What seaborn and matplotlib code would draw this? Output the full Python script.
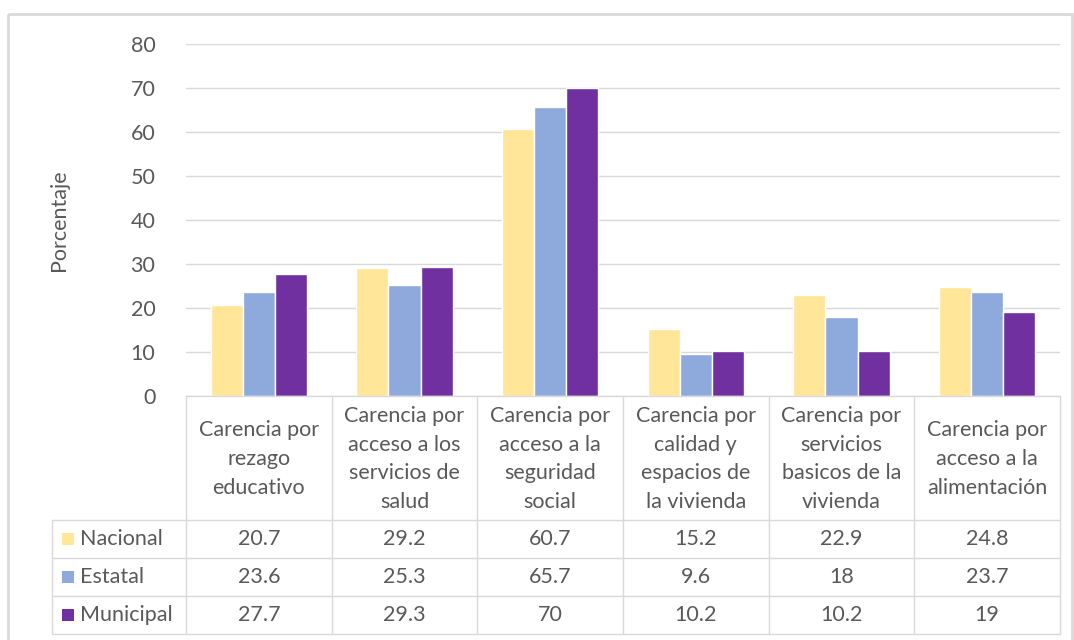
import pandas as pd
import matplotlib.pyplot as plt
import matplotlib.transforms as mtransforms
from matplotlib.patches import Rectangle
import seaborn as sns

# Chart data
categorias = [
    "Carencia por\nrezago\neducativo",
    "Carencia por\nacceso a los\nservicios de\nsalud",
    "Carencia por\nacceso a la\nseguridad\nsocial",
    "Carencia por\ncalidad y\nespacios de\nla vivienda",
    "Carencia por\nservicios\nbasicos de la\nvivienda",
    "Carencia por\nacceso a la\nalimentación",
]
series = ["Nacional", "Estatal", "Municipal"]
nacional = [20.7, 29.2, 60.7, 15.2, 22.9, 24.8]
estatal = [23.6, 25.3, 65.7, 9.6, 18, 23.7]
municipal = [27.7, 29.3, 70, 10.2, 10.2, 19]
etiquetas_tabla = [
    ["20.7", "29.2", "60.7", "15.2", "22.9", "24.8"],
    ["23.6", "25.3", "65.7", "9.6", "18", "23.7"],
    ["27.7", "29.3", "70", "10.2", "10.2", "19"],
]
colores = ["#FFE699", "#8EA9DB", "#7030A0"]

sns.set_theme(style="white")
plt.rcParams["font.family"] = ["Lato", "DejaVu Sans"]
texto = "#595959"
linea = "#D9D9D9"
fs = 15.5

df = pd.DataFrame({
    "categoria": categorias * 3,
    "serie": [s for s in series for _ in categorias],
    "valor": nacional + estatal + municipal,
})

W, H = 1074, 640
fig = plt.figure(figsize=(W / 100, H / 100), dpi=100)
ax = fig.add_axes([186 / W, (H - 396) / H, 874 / W, 352 / H])

sns.barplot(data=df, x="categoria", y="valor", hue="serie",
            palette=colores, width=0.66, saturation=1, ax=ax, legend=False)

ax.set_ylim(0, 80)
ax.set_yticks(range(0, 81, 10))
ax.set_xlim(-0.5, 5.5)
ax.set_xticks([])
ax.set_xlabel("")
ax.set_ylabel("Porcentaje", fontsize=fs, color=texto, labelpad=44)
ax.tick_params(axis="y", length=0, pad=22, labelsize=fs, labelcolor=texto)
ax.grid(axis="y", color=linea, linewidth=1)
ax.set_axisbelow(True)
for s in ax.spines.values():
    s.set_visible(False)

# pixel coordinates (origin top-left) for the data table
px = mtransforms.Affine2D().scale(1, -1).translate(0, H).scale(1 / W, 1 / H) + fig.transFigure
col_tr = mtransforms.blended_transform_factory(ax.transData, px)

top, head_bot, row_h = 396, 520, 38
rows_y = [head_bot + i * row_h for i in range(4)]
left = 52

# horizontal lines
fig.add_artist(plt.Line2D([186, 1060], [top, top], transform=px, color=linea, lw=1))
for y in rows_y:
    fig.add_artist(plt.Line2D([left, 1060], [y, y], transform=px, color=linea, lw=1))
# vertical lines
for i in range(len(categorias) + 1):
    fig.add_artist(plt.Line2D([i - 0.5, i - 0.5], [top, rows_y[-1]], transform=col_tr,
                              color=linea, lw=1))
fig.add_artist(plt.Line2D([left, left], [head_bot, rows_y[-1]], transform=px, color=linea, lw=1))

# header text
for i, cat in enumerate(categorias):
    fig.text(i, (top + head_bot) / 2 + 1, cat, transform=col_tr, ha="center", va="center",
             fontsize=fs, color=texto, linespacing=1.55)

# value rows with legend keys
for r, (name, col, labels) in enumerate(zip(series, colores, etiquetas_tabla)):
    yc = rows_y[r] + row_h / 2
    fig.add_artist(Rectangle((62, yc - 6), 12, 12, transform=px, facecolor=col, edgecolor="none"))
    fig.text(80, yc, name, transform=px, ha="left", va="center", fontsize=fs, color=texto)
    for i, lab in enumerate(labels):
        fig.text(i, yc, lab, transform=col_tr, ha="center", va="center", fontsize=fs, color=texto)

# outer chart border
fig.add_artist(Rectangle((8, 14), 1064, 640, transform=px, fill=False, edgecolor=linea, lw=2))

fig.savefig("out.png", dpi=100)
